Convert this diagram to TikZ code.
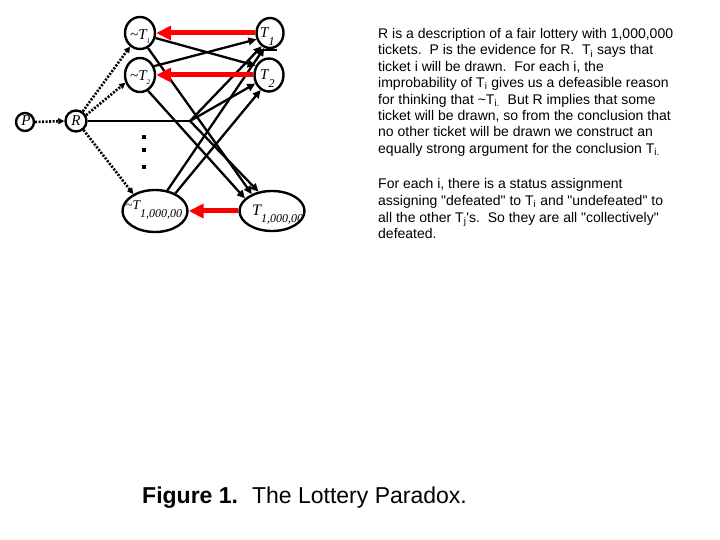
\documentclass[tikz,border=0pt]{standalone}
\usepackage{fontspec}
\setmainfont{Liberation Sans}[Ligatures=TeXOff]
\newfontfamily\timesf{Liberation Serif}
\usetikzlibrary{arrows.meta,shapes.geometric}
\begin{document}
\begin{tikzpicture}[x=1pt,y=-1pt,
  oval/.style={draw,ellipse,line width=2.4pt,inner sep=0pt},
  circ/.style={draw,circle,line width=2.4pt,inner sep=0pt},
  lbl/.style={anchor=base west,inner sep=0pt,font=\timesf\itshape},
  txt/.style={anchor=base west,inner sep=0pt,font=\fontsize{14}{16}\selectfont},
  blk/.style={line width=2.3pt,-{Triangle[length=8pt,width=7.5pt]}},
  dotarr/.style={line width=2.6pt,dash pattern=on 2pt off 1.5pt,-{Triangle[length=6pt,width=6pt]}},
  redarr/.style={draw=red,line width=5pt,-{Triangle[length=15pt,width=14pt]}},
  dotmark/.style={fill,minimum size=3.2pt,inner sep=0pt}
  ]
\path[use as bounding box] (0,0) rectangle (720,540);

% nodes
\node[circ,minimum size=18pt] (P) at (25,122) {};
\node[circ,minimum size=21pt] (R) at (76,121) {};
\node[oval,minimum width=30pt,minimum height=32pt] (nT1) at (140,33) {};
\node[oval,minimum width=30pt,minimum height=34pt] (nT2) at (140,75) {};
\node[oval,minimum width=65pt,minimum height=42pt] (nTn) at (155,211) {};
\node[oval,minimum width=27pt,minimum height=30pt] (T1) at (270,33) {};
\node[oval,minimum width=29pt,minimum height=33pt] (T2) at (269,75) {};
\node[oval,minimum width=65pt,minimum height=40pt] (Tn) at (272,211) {};

% labels
\node[lbl,anchor=center,font=\timesf\itshape\fontsize{15}{15}\selectfont] (Pl) at (26,121) {P};
\node[lbl,anchor=center,font=\timesf\itshape\fontsize{15}{15}\selectfont] (Rl) at (76,121) {R};
\node[lbl] (lnT1) at (130,40) {\fontsize{15}{15}\selectfont\textasciitilde T\raisebox{-4pt}{\fontsize{7}{7}\selectfont 1}};
\node[lbl] (lnT2) at (130,81) {\fontsize{15}{15}\selectfont\textasciitilde T\raisebox{-4pt}{\fontsize{7}{7}\selectfont 2}};
\node[lbl] (lT1) at (260,38) {\fontsize{15}{15}\selectfont T\raisebox{-8pt}{\fontsize{12}{12}\selectfont 1}};
\node[lbl] (lT2) at (260,80) {\fontsize{15}{15}\selectfont T\raisebox{-8pt}{\fontsize{12}{12}\selectfont 2}};
\node[lbl] (lnTn) at (125,210) {\fontsize{13.5}{13.5}\selectfont\textasciitilde T\raisebox{-8pt}{\fontsize{12}{12}\selectfont 1,000,00}};
\node[lbl] (lTn) at (252,215) {\fontsize{16}{16}\selectfont T\raisebox{-7pt}{\fontsize{12}{12}\selectfont 1,000,00}};

% vertical dots
\node[dotmark] (d1) at (144,137) {};
\node[dotmark] (d2) at (144,150) {};
\node[dotmark] (d3) at (144,167) {};

% dotted arrows
\draw[dotarr] (P.east) -- (R.west);
\draw[dotarr] (R.55) -- (nT1.234);
\draw[dotarr] (R.30) -- (nT2.208);
\draw[dotarr] (R.-50) -- (nTn.142);

% black arrows
\coordinate (rb) at (190,121);
\draw[line width=2.3pt] (R.east) -- (rb);
\draw[blk] (rb) -- (T1.238);
\draw[blk] (rb) -- (T2.212);
\draw[blk] (rb) -- (Tn.125);
\draw[blk] (nT1.-18) -- (T2.145);
\draw[blk] (nT1.-62) -- (Tn.140);
\draw[blk] (nT2.32) -- (T1.205);
\draw[blk] (nT2.-63) -- (Tn.155);
\draw[blk] (nTn.59) -- (T1.249);
\draw[blk] (nTn.41) -- (T2.241);
\coordinate (s1) at (258,50);
\coordinate (s2) at (277,50);
\draw[line width=1.8pt] (s1) -- (s2);

% red arrows
\draw[redarr] (T1.west) -- (nT1.east);
\draw[redarr] (T2.west) -- (nT2.east);
\draw[redarr] (Tn.west) -- (nTn.east);

% text
\node[txt] (a1) at (378,38.5) {R is a description of a fair lottery with 1,000,000};
\node[txt] (a2) at (378,54.9) {tickets.\ \ P is the evidence for R.\ \ T\textsubscript{i} says that};
\node[txt] (a3) at (378,71.3) {ticket i will be drawn.\ \ For each i, the};
\node[txt] (a4) at (378,87.7) {improbability of T\textsubscript{i} gives us a defeasible reason};
\node[txt] (a5) at (378,104.1) {for thinking that \textasciitilde T\textsubscript{i.}\ \ But R implies that some};
\node[txt] (a6) at (378,120.5) {ticket will be drawn, so from the conclusion that};
\node[txt] (a7) at (378,136.9) {no other ticket will be drawn we construct an};
\node[txt] (a8) at (378,153.3) {equally strong argument for the conclusion T\textsubscript{i.}};

\node[txt] (b1) at (378,189) {For each i, there is a status assignment};
\node[txt] (b2) at (378,205.7) {assigning "defeated" to T\textsubscript{i} and "undefeated" to};
\node[txt] (b3) at (378,222.4) {all the other T\textsubscript{j}'s.\ \ So they are all "collectively"};
\node[txt] (b4) at (378,239) {defeated.};

\node[anchor=base west,inner sep=0pt,font=\fontsize{23}{23}\selectfont] (cap) at (142,503) {\textbf{Figure 1.}\hspace{14pt}The Lottery Paradox.};
\end{tikzpicture}
\end{document}
